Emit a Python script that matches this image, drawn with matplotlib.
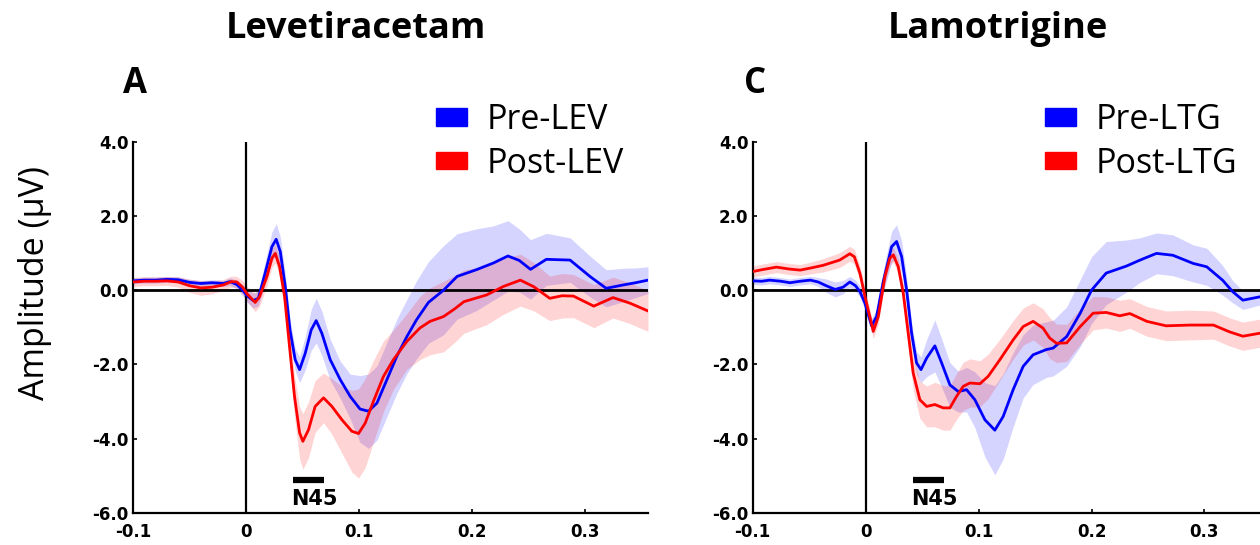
import matplotlib
matplotlib.use("Agg")
import matplotlib.pyplot as plt
from matplotlib.patches import Patch
import numpy as np

# ---------------- data ----------------
TITLES = ["Levetiracetam", "Lamotrigine"]
PANEL_LETTERS = ["A", "C"]
LEGEND_LEFT = ["Pre-LEV", "Post-LEV"]
LEGEND_RIGHT = ["Pre-LTG", "Post-LTG"]
Y_TICKS = [-6.0, -4.0, -2.0, 0.0, 2.0, 4.0]
X_TICKS = [-0.1, 0.0, 0.1, 0.2, 0.3]
X_TICK_LABELS = ["-0.1", "0", "0.1", "0.2", "0.3"]
N45_WINDOW = [0.042, 0.069]

# Levetiracetam, pre (blue)
PRE_LEV_T = [-0.100, -0.090, -0.080, -0.070, -0.060, -0.050, -0.040, -0.030, -0.020, -0.014,
             -0.008, -0.003, 0.001, 0.0065, 0.011, 0.017, 0.023, 0.0268, 0.0304, 0.0348,
             0.039, 0.0436, 0.0475, 0.0525, 0.0578, 0.0622, 0.0672, 0.0746, 0.0835, 0.0923,
             0.101, 0.1085, 0.116, 0.1248, 0.1336, 0.1425, 0.151, 0.1616, 0.175, 0.187,
             0.204, 0.219, 0.232, 0.242, 0.252, 0.266, 0.287, 0.305, 0.319, 0.334,
             0.345, 0.356]
PRE_LEV_V = [0.25, 0.27, 0.27, 0.29, 0.28, 0.21, 0.18, 0.20, 0.18, 0.23,
             0.15, 0.00, -0.15, -0.28, -0.22, 0.46, 1.17, 1.37, 1.04, 0.10,
             -1.07, -1.87, -2.14, -1.70, -1.07, -0.82, -1.16, -1.87, -2.41, -2.86,
             -3.20, -3.26, -3.04, -2.41, -1.78, -1.25, -0.80, -0.33, 0.00, 0.37,
             0.55, 0.73, 0.92, 0.80, 0.56, 0.83, 0.81, 0.36, 0.05, 0.14,
             0.20, 0.27]
PRE_LEV_SEM = [0.08, 0.08, 0.08, 0.08, 0.08, 0.08, 0.08, 0.08, 0.08, 0.10,
               0.12, 0.15, 0.18, 0.20, 0.20, 0.30, 0.40, 0.42, 0.40, 0.35,
               0.30, 0.30, 0.35, 0.45, 0.55, 0.60, 0.60, 0.55, 0.50, 0.60,
               0.90, 1.00, 1.00, 1.00, 1.00, 1.00, 1.05, 1.10, 1.20, 1.15,
               1.10, 1.00, 0.95, 0.85, 0.80, 0.70, 0.60, 0.55, 0.50, 0.45,
               0.40, 0.36]

# Levetiracetam, post (red)
POST_LEV_T = [-0.100, -0.090, -0.080, -0.070, -0.060, -0.050, -0.040, -0.030, -0.020, -0.013,
              -0.008, -0.003, 0.001, 0.0082, 0.012, 0.0186, 0.023, 0.026, 0.0298, 0.0342,
              0.0386, 0.043, 0.0475, 0.0504, 0.0554, 0.0613, 0.0687, 0.0761, 0.085, 0.0938,
              0.0997, 0.1056, 0.1129, 0.1218, 0.1306, 0.1425, 0.154, 0.163, 0.175, 0.185,
              0.193, 0.213, 0.228, 0.243, 0.255, 0.269, 0.280, 0.290, 0.308, 0.325,
              0.340, 0.356]
POST_LEV_V = [0.22, 0.24, 0.24, 0.25, 0.22, 0.12, 0.06, 0.08, 0.14, 0.23,
              0.22, 0.08, -0.10, -0.33, -0.18, 0.37, 0.86, 0.99, 0.63, -0.17,
              -1.52, -2.86, -3.84, -4.07, -3.76, -3.13, -2.90, -3.13, -3.49, -3.80,
              -3.86, -3.58, -2.99, -2.32, -1.87, -1.38, -1.02, -0.84, -0.71, -0.50,
              -0.31, -0.13, 0.10, 0.27, 0.09, -0.22, -0.15, -0.16, -0.43, -0.20,
              -0.35, -0.56]
POST_LEV_SEM = [0.12, 0.12, 0.12, 0.12, 0.14, 0.18, 0.20, 0.18, 0.15, 0.15,
                0.15, 0.18, 0.20, 0.25, 0.25, 0.25, 0.25, 0.25, 0.25, 0.30,
                0.40, 0.55, 0.70, 0.75, 0.75, 0.70, 0.67, 0.75, 0.90, 1.10,
                1.20, 1.20, 1.10, 0.95, 0.80, 0.75, 0.85, 0.90, 0.95, 0.90,
                0.85, 0.80, 0.75, 0.70, 0.65, 0.60, 0.60, 0.58, 0.58, 0.55,
                0.55, 0.55]

# Lamotrigine, pre (blue)
PRE_LTG_T = [-0.100, -0.092, -0.085, -0.075, -0.067, -0.058, -0.049, -0.042, -0.035, -0.027,
             -0.020, -0.014, -0.009, -0.005, -0.0006, 0.0053, 0.0097, 0.0156, 0.023, 0.0274,
             0.0319, 0.0363, 0.0407, 0.0451, 0.049, 0.054, 0.0613, 0.0673, 0.0746, 0.082,
             0.0894, 0.0967, 0.1056, 0.1144, 0.1218, 0.1306, 0.1395, 0.1483, 0.160, 0.166,
             0.178, 0.190, 0.200, 0.213, 0.231, 0.243, 0.2575, 0.272, 0.290, 0.302,
             0.316, 0.325, 0.334, 0.349]
PRE_LTG_V = [0.25, 0.24, 0.27, 0.24, 0.20, 0.24, 0.27, 0.22, 0.12, 0.02,
             0.08, 0.22, 0.12, -0.04, -0.35, -0.96, -0.71, 0.23, 1.17, 1.31,
             0.90, 0.00, -1.16, -1.96, -2.14, -1.83, -1.50, -1.96, -2.55, -2.73,
             -2.68, -2.95, -3.49, -3.77, -3.40, -2.68, -2.05, -1.74, -1.60, -1.56,
             -1.25, -0.62, 0.00, 0.46, 0.65, 0.81, 0.99, 0.94, 0.72, 0.63,
             0.27, -0.04, -0.27, -0.18]
PRE_LTG_SEM = [0.10, 0.10, 0.10, 0.10, 0.10, 0.10, 0.10, 0.12, 0.18, 0.20,
               0.18, 0.15, 0.15, 0.15, 0.18, 0.20, 0.20, 0.30, 0.42, 0.45,
               0.42, 0.35, 0.30, 0.30, 0.35, 0.50, 0.70, 0.65, 0.60, 0.55,
               0.60, 0.75, 1.00, 1.20, 1.15, 1.00, 0.85, 0.80, 0.75, 0.75,
               0.80, 0.90, 0.90, 0.85, 0.70, 0.60, 0.55, 0.55, 0.50, 0.50,
               0.40, 0.30, 0.25, 0.22]

# Lamotrigine, post (red)
POST_LTG_T = [-0.100, -0.092, -0.079, -0.068, -0.058, -0.048, -0.0375, -0.023, -0.014, -0.010,
              -0.005, -0.0006, 0.0068, 0.0112, 0.0171, 0.0215, 0.0245, 0.0289, 0.0333, 0.0377,
              0.0421, 0.048, 0.054, 0.0613, 0.0687, 0.0746, 0.0805, 0.0864, 0.0923, 0.1012,
              0.1085, 0.1189, 0.1306, 0.1395, 0.1483, 0.157, 0.163, 0.169, 0.178, 0.190,
              0.2014, 0.213, 0.225, 0.234, 0.249, 0.266, 0.287, 0.308, 0.322, 0.334,
              0.349]
POST_LTG_V = [0.50, 0.55, 0.62, 0.57, 0.54, 0.60, 0.67, 0.81, 0.98, 0.90,
              0.45, -0.17, -1.11, -0.71, 0.37, 0.86, 0.95, 0.63, -0.08, -1.16,
              -2.23, -2.95, -3.13, -3.08, -3.17, -3.17, -2.86, -2.59, -2.50, -2.52,
              -2.32, -1.87, -1.34, -0.98, -0.84, -1.02, -1.29, -1.43, -1.42, -0.98,
              -0.62, -0.60, -0.69, -0.63, -0.84, -0.96, -0.94, -0.94, -1.12, -1.24,
              -1.16]
POST_LTG_SEM = [0.15, 0.15, 0.15, 0.15, 0.15, 0.16, 0.18, 0.20, 0.20, 0.20,
                0.20, 0.20, 0.20, 0.20, 0.20, 0.20, 0.20, 0.20, 0.25, 0.35,
                0.45, 0.50, 0.55, 0.60, 0.60, 0.60, 0.62, 0.65, 0.65, 0.62,
                0.60, 0.55, 0.52, 0.50, 0.50, 0.52, 0.55, 0.52, 0.50, 0.48,
                0.45, 0.42, 0.42, 0.40, 0.40, 0.40, 0.40, 0.38, 0.38, 0.38,
                0.38]

BLUE = "#0000ff"
RED = "#ff0000"

# ---------------- figure ----------------
W, H = 1260, 545
fig = plt.figure(figsize=(W / 100, H / 100), dpi=100)

def fx(px):
    return px / W

def fy(py):
    return 1 - py / H

ax_w = fx(515)
ax_b = fy(513)
ax_h = fy(141.6) - ax_b
axL = fig.add_axes([fx(133), ax_b, ax_w, ax_h])
axR = fig.add_axes([fx(752.7), ax_b, ax_w, ax_h])

panels = [
    (axL, [(PRE_LEV_T, PRE_LEV_V, PRE_LEV_SEM, BLUE), (POST_LEV_T, POST_LEV_V, POST_LEV_SEM, RED)]),
    (axR, [(PRE_LTG_T, PRE_LTG_V, PRE_LTG_SEM, BLUE), (POST_LTG_T, POST_LTG_V, POST_LTG_SEM, RED)]),
]

tick_font = dict(family="DejaVu Sans", weight="bold", size=12)

for ax, series in panels:
    ax.set_xlim(-0.1, 0.356)
    ax.set_ylim(-6.0, 4.0)
    for t, v, s, c in series:
        t = np.asarray(t); v = np.asarray(v); s = np.asarray(s)
        ax.fill_between(t, v - s, v + s, color=c, alpha=0.17, linewidth=0, zorder=1)
    ax.axhline(0, color="black", lw=2.0, zorder=2)
    ax.axvline(0, color="black", lw=1.6, zorder=2)
    for t, v, s, c in series:
        ax.plot(t, v, color=c, lw=2.0, zorder=3)
    # N45 window
    ax.plot(N45_WINDOW, [-5.1, -5.1], color="black", lw=4.5, solid_capstyle="butt", zorder=4)
    ax.text(np.mean(N45_WINDOW) + 0.0055, -5.62, "N45", ha="center", va="center",
            fontsize=15, fontweight="bold", family="DejaVu Sans", zorder=4)
    for sp in ["top", "right"]:
        ax.spines[sp].set_visible(False)
    for sp in ["left", "bottom"]:
        ax.spines[sp].set_linewidth(1.6)
    ax.set_yticks(Y_TICKS)
    ax.set_yticklabels(["%.1f" % y for y in Y_TICKS], fontdict=tick_font)
    ax.set_xticks(X_TICKS)
    ax.set_xticklabels(X_TICK_LABELS, fontdict=tick_font)
    ax.tick_params(direction="in", length=3, width=1.2)
    ax.tick_params(axis="y", pad=3)
    ax.tick_params(axis="x", pad=7)

# titles & letters
fig.text(fx(356), fy(29), TITLES[0], ha="center", va="center", fontsize=26,
         fontweight="bold", family="Open Sans")
fig.text(fx(998), fy(29), TITLES[1], ha="center", va="center", fontsize=26,
         fontweight="bold", family="Open Sans")
fig.text(fx(135), fy(84), PANEL_LETTERS[0], ha="center", va="center", fontsize=25,
         fontweight="bold", family="Open Sans")
fig.text(fx(755), fy(84), PANEL_LETTERS[1], ha="center", va="center", fontsize=25,
         fontweight="bold", family="Open Sans")
fig.text(fx(35), fy(283), "Amplitude (\u03bcV)", ha="center", va="center",
         rotation=90, fontsize=24.5, family="Open Sans")

# legends
for ax, labels, x0 in [(axL, LEGEND_LEFT, 436), (axR, LEGEND_RIGHT, 1045)]:
    handles = [Patch(facecolor=BLUE, edgecolor=BLUE), Patch(facecolor=RED, edgecolor=RED)]
    leg = ax.legend(handles, labels, loc="upper left", bbox_to_anchor=(fx(x0), fy(103)),
                    bbox_transform=fig.transFigure, frameon=False,
                    prop=dict(family="Open Sans", size=24.5),
                    handlelength=0.9, handleheight=0.42, handletextpad=0.6,
                    labelspacing=0.28, borderpad=0, borderaxespad=0)

fig.savefig("out.png", dpi=100)
